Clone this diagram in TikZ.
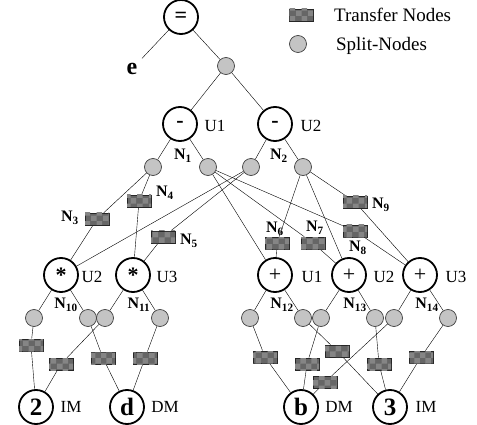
\documentclass[tikz,border=0pt]{standalone}
\usepackage{fontspec}
\setmainfont{Liberation Serif}
\usetikzlibrary{patterns,backgrounds}
\definecolor{SplitGray}{HTML}{C4C4C4}
\definecolor{TransGray}{HTML}{666666}

\begin{document}
\begin{tikzpicture}[x=1pt,y=-1pt,line width=1.6pt,
    op/.style={circle,draw,line width=1.8pt,minimum size=34pt,inner sep=0pt,font=\fontsize{22}{22}\selectfont},
    leaf/.style={op,font=\fontsize{25}{25}\selectfont\bfseries},
    split/.style={circle,draw=black!75,line width=.7pt,fill=SplitGray,minimum size=17pt,inner sep=0pt},
    trans/.style={rectangle,draw=black!85,line width=.7pt,fill=TransGray,minimum width=24pt,minimum height=12pt,inner sep=0pt,
        postaction={pattern=checkerboard,pattern color=black!48}},
    unit/.style={font=\fontsize{17}{17}\selectfont},
    nlab/.style={font=\fontsize{16}{16}\selectfont\bfseries}]
    \useasboundingbox (0,0) rectangle (477,425);

    % legend
    \node[trans] (legT) at (301,15) {};
    \node[unit,anchor=west,font=\fontsize{19}{19}\selectfont] (legTtext) at (330,15) {Transfer Nodes};
    \node[split] (legS) at (298,44) {};
    \node[unit,anchor=west,font=\fontsize{19}{19}\selectfont] (legStext) at (332,46) {Split-Nodes};

    % top of the tree
    \node[op] (eq) at (181,17) {\textbf{=}};
    \node[font=\fontsize{24}{24}\selectfont\bfseries,inner sep=4pt] (e) at (132,69) {e};
    \node[split] (s0) at (226,66) {};
    \node[op] (m1) at (180,124) {\textbf{-}};
    \node[op] (m2) at (275,124) {\textbf{-}};
    \node[unit] at (215,126) {U1};
    \node[unit] at (311,126) {U2};
    \node[nlab] at (183,156) {N\textsubscript{1}};
    \node[nlab] at (279,156) {N\textsubscript{2}};
    \node[split] (sA) at (153,167) {};
    \node[split] (sB) at (208,167) {};
    \node[split] (sC) at (251,167) {};
    \node[split] (sD) at (303,167) {};

    % operators of the middle row
    \node[op] (x1) at (61,275) {\raisebox{-.3em}{\bfseries *}};
    \node[op] (x2) at (133,275) {\raisebox{-.3em}{\bfseries *}};
    \node[op] (p1) at (275,275) {+};
    \node[op] (p2) at (349,275) {+};
    \node[op] (p3) at (420,275) {+};
    \foreach \x/\u in {92/U2,167/U3,312/U1,384/U2,456/U3}
        \node[unit] at (\x,277) {\u};

    % transfer nodes between the two levels
    \foreach \n/\x/\y in {3/97/219,4/139/201,5/163/237,6/277/243,7/313/243,8/355/231,9/355/202}
        \node[trans] (t\n) at (\x,\y) {};
    \foreach \n/\x/\y in {3/70/218,4/165/193,5/189/241,6/275/229,7/315/228,8/358/248,9/381/205}
        \node[nlab] at (\x,\y) {N\textsubscript{\n}};

    % split nodes under the middle row
    \foreach \n/\x in {x1a/34,x1b/88,x2a/105,x2b/160,p1a/250,p1b/303,p2a/321,p2b/375,p3a/394,p3b/448}
        \node[split] (\n) at (\x,318) {};
    \foreach \n/\x in {10/66,11/139,12/282,13/355,14/427}
        \node[nlab] at (\x,305) {N\textsubscript{\n}};

    % transfer nodes above the leaves
    \foreach \n/\x/\y in {a/31/345,b/103/358,c/61/364,d/145/358,e/265/357,f/337/351,g/307/364,h/379/364,i/325/382,j/421/357}
        \node[trans] (r\n) at (\x,\y) {};

    % leaves
    \node[leaf] (lf2) at (36,407) {2};
    \node[leaf] (lfd) at (127,407) {d};
    \node[leaf] (lfb) at (301,407) {b};
    \node[leaf] (lf3) at (390,407) {3};
    \node[unit] at (71,407) {IM};
    \node[unit] at (165,407) {DM};
    \node[unit] at (339,407) {DM};
    \node[unit] at (426,407) {IM};

    \begin{scope}[on background layer]
        \draw (eq) -- (e);
        \draw (eq) -- (s0) -- (m1);
        \draw (s0) -- (m2);
        \draw (m1) -- (sA);
        \draw (m1) -- (sB);
        \draw (m2) -- (sC);
        \draw (m2) -- (sD);
        \draw (sA) -- (t3) -- (x1);
        \draw (sA) -- (t4) -- (x2);
        \draw (sC) -- (x1);
        \draw (sC) -- (t5) -- (x2);
        \draw (sB) -- (p1);
        \draw (sB) -- (t7) -- (p2);
        \draw (sB) -- (t8) -- (p3);
        \draw (sD) -- (t6) -- (p1);
        \draw (sD) -- (p2);
        \draw (sD) -- (t9) -- (p3);
        \foreach \o/\s in {x1/x1a,x1/x1b,x2/x2a,x2/x2b,p1/p1a,p1/p1b,p2/p2a,p2/p2b,p3/p3a,p3/p3b}
            \draw (\o) -- (\s);
        \draw (x1a) -- (ra) -- (lf2);
        \draw (x2a) -- (rc) -- (lf2);
        \draw (x1b) -- (rb) -- (lfd);
        \draw (x2b) -- (rd) -- (lfd);
        \draw (p1a) -- (re) -- (lfb);
        \draw (p2a) -- (rg) -- (lfb);
        \draw (p3a) -- (ri) -- (lfb);
        \draw (p1b) -- (rf) -- (lf3);
        \draw (p2b) -- (rh) -- (lf3);
        \draw (p3b) -- (rj) -- (lf3);
    \end{scope}
\end{tikzpicture}
\end{document}
